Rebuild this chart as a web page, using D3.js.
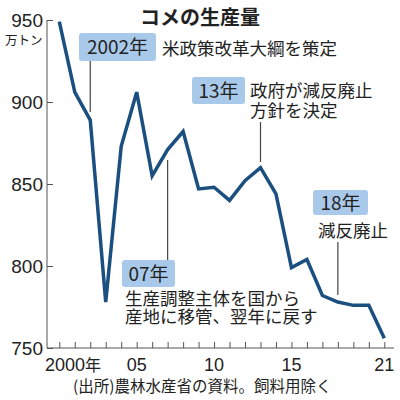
<!DOCTYPE html>
<html>
<head>
<meta charset="utf-8">
<script src="https://cdn.jsdelivr.net/npm/d3@7"></script>
<style>
  body { margin: 0; background: #fff; }
  text { font-family: "Noto Sans CJK JP", "Noto Sans", sans-serif; fill: #222; }
  .num { font-family: "Liberation Sans Narrow", "Liberation Sans", sans-serif; }
</style>
</head>
<body>
<div id="wrapper"></div>
<script>
// 1. Data
const years = d3.range(2000, 2022)
const production = [949, 906, 889, 778, 873, 906, 855, 871, 882, 847, 848,
    840, 852, 860, 844, 799, 804, 782, 778, 776, 776, 756]
const yTicks = [750, 800, 850, 900, 950]
const xTickLabels = [[2000, "2000年"], [2005, "05"], [2010, "10"], [2015, "15"], [2021, "21"]]

const notes = [
    { year: 2002, tag: "2002年", lines: ["米政策改革大綱を策定"] },
    { year: 2013, tag: "13年", lines: ["政府が減反廃止", "方針を決定"] },
    { year: 2007, tag: "07年", lines: ["生産調整主体を国から", "産地に移管、翌年に戻す"] },
    { year: 2018, tag: "18年", lines: ["減反廃止"] },
]
// layout for each note (box corner, text start, leader line ends)
const noteLayout = {
    2002: { bx: 79, by: 33, bw: 77, bh: 28, tx: 162, ty: 55, lh: 0, l0: 61, l1: 112 },
    2013: { bx: 192, by: 77, bw: 53, bh: 27, tx: 250, ty: 97, lh: 20, l0: 122, l1: 162 },
    2007: { bx: 122, by: 260, bw: 53, bh: 27, tx: 125, ty: 305, lh: 18, l0: 160, l1: 260 },
    2018: { bx: 313, by: 190, bw: 55, bh: 25, tx: 318, ty: 237, lh: 0, l0: 242, l1: 295 },
}

// 2. Dimensions
const width = 400
const height = 400

const svg = d3.select("#wrapper")
    .append("svg")
    .attr("width", width)
    .attr("height", height)

// 3. Scales
const xScale = d3.scaleLinear()
    .domain([2000, 2021])
    .range([59.3, 384.3])

const yScale = d3.scaleLinear()
    .domain([750, 950])
    .range([348, 20])

// 4. Axes
const xAxis = svg.append("g")
    .attr("transform", `translate(0, ${yScale(750)})`)
    .call(d3.axisBottom(xScale)
        .tickValues(years)
        .tickSizeInner(-6)
        .tickSizeOuter(0)
        .tickFormat(""))
xAxis.select(".domain").attr("d", `M47,0H394`)
xAxis.selectAll("line").attr("stroke", "#555")
xAxis.select(".domain").attr("stroke", "#555")

svg.selectAll(".xlabel")
    .data(xTickLabels)
    .enter()
    .append("text")
    .attr("class", "xlabel num")
    .attr("x", d => d[0] === 2000 ? 45 : xScale(d[0]))
    .attr("y", 371)
    .attr("text-anchor", d => d[0] === 2000 ? "start" : "middle")
    .style("font-size", "18px")
    .each(function (d) {
        const t = d3.select(this)
        if (d[0] === 2000) {
            t.append("tspan").text("2000")
            t.append("tspan").style("font-family", "Noto Sans CJK JP").style("font-size", "16px").text("年")
        } else {
            t.text(d[1])
        }
    })

const yAxis = svg.append("g")
    .attr("transform", "translate(47, 0)")
    .call(d3.axisLeft(yScale)
        .tickValues(yTicks)
        .tickSizeInner(-6)
        .tickSizeOuter(0)
        .tickFormat(""))
yAxis.select(".domain").attr("d", `M0,${yScale(950)}V${yScale(750)}`).attr("stroke", "#555")
yAxis.selectAll("line").attr("stroke", "#555")

svg.selectAll(".ylabel")
    .data(yTicks)
    .enter()
    .append("text")
    .attr("class", "ylabel num")
    .attr("x", 43)
    .attr("y", d => yScale(d) + 7)
    .attr("text-anchor", "end")
    .style("font-size", "19px")
    .text(d => d)

svg.append("text")
    .attr("x", 5)
    .attr("y", 45)
    .style("font-size", "12.5px")
    .text("万トン")

// 5. Title
svg.append("text")
    .attr("x", 200)
    .attr("y", 25)
    .attr("text-anchor", "middle")
    .style("font-size", "20px")
    .style("font-weight", "bold")
    .text("コメの生産量")

// 6. Leader lines and notes
const noteG = svg.selectAll(".note")
    .data(notes)
    .enter()
    .append("g")
    .attr("class", "note")

noteG.append("line")
    .attr("x1", d => xScale(d.year))
    .attr("x2", d => xScale(d.year))
    .attr("y1", d => noteLayout[d.year].l0)
    .attr("y2", d => noteLayout[d.year].l1)
    .attr("stroke", "#444")
    .attr("stroke-width", 1.2)

noteG.append("rect")
    .attr("x", d => noteLayout[d.year].bx)
    .attr("y", d => noteLayout[d.year].by)
    .attr("width", d => noteLayout[d.year].bw)
    .attr("height", d => noteLayout[d.year].bh)
    .attr("rx", 3)
    .attr("fill", "#a9c9ea")

noteG.append("text")
    .attr("x", d => noteLayout[d.year].bx + noteLayout[d.year].bw / 2)
    .attr("y", d => noteLayout[d.year].by + noteLayout[d.year].bh / 2 + 7)
    .attr("text-anchor", "middle")
    .style("font-size", "19px")
    .text(d => d.tag)

noteG.each(function (d) {
    const lay = noteLayout[d.year]
    d3.select(this).selectAll(".body")
        .data(d.lines)
        .enter()
        .append("text")
        .attr("class", "body")
        .attr("x", lay.tx)
        .attr("y", (l, i) => lay.ty + i * lay.lh)
        .style("font-size", "17.5px")
        .text(l => l)
})

// 7. Data line
const line = d3.line()
    .x((d, i) => xScale(years[i]))
    .y(d => yScale(d))

svg.append("path")
    .datum(production)
    .attr("d", line)
    .attr("fill", "none")
    .attr("stroke", "#1b4f80")
    .attr("stroke-width", 3.5)
    .attr("stroke-linejoin", "miter")

// 8. Source
svg.append("text")
    .attr("x", 73)
    .attr("y", 392)
    .style("font-size", "15.5px")
    .text("(出所)農林水産省の資料。飼料用除く")
</script>
</body>
</html>
